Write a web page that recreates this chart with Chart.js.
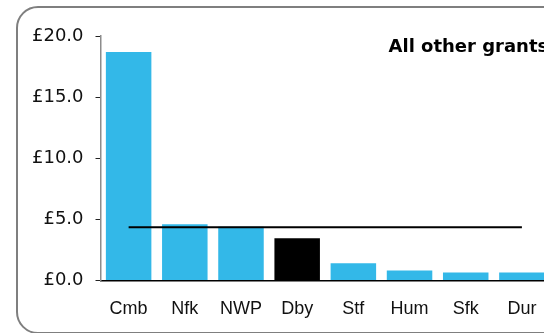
<!DOCTYPE html>
<html>
<head>
<meta charset="utf-8">
<script src="https://cdn.jsdelivr.net/npm/chart.js@4"></script>
<style>
  html, body { margin: 0; padding: 0; background: #fff; overflow: hidden; }
  body { width: 544px; height: 333px; position: relative; }
  .frame {
    position: absolute; left: 16px; top: 6px; width: 560px; height: 324px;
    border: 2px solid #7f7f7f; border-radius: 22px;
  }
  .chart-box { position: absolute; left: 0; top: 0; width: 570px; height: 333px; }
</style>
</head>
<body>
<div class="frame"></div>
<div class="chart-box"><canvas id="grantsChart"></canvas></div>
<script>
// Grant amounts per authority (£m)
const areas = ["Cmb", "Nfk", "NWP", "Dby", "Stf", "Hum", "Sfk", "Dur"];
const grants = [18.7, 4.6, 4.4, 3.45, 1.4, 0.8, 0.65, 0.65];
const average = [4.35, 4.35, 4.35, 4.35, 4.35, 4.35, 4.35, 4.35];
const yTicks = [0, 5, 10, 15, 20];
const chartTitle = "All other grants";

const barColors = areas.map(function (a) {
  return a === "Dby" ? "#000000" : "#33b8e8";
});

// Bold heading drawn in the top right of the plot
const headingPlugin = {
  id: "heading",
  afterDraw: function (chart) {
    const ctx = chart.ctx;
    const area = chart.chartArea;
    ctx.save();
    ctx.font = "bold 18px 'DejaVu Sans'";
    ctx.fillStyle = "#000";
    ctx.textAlign = "left";
    ctx.textBaseline = "alphabetic";
    ctx.fillText(chartTitle, area.left + 288, area.top + 16);
    ctx.restore();
  },
};

document.addEventListener("DOMContentLoaded", function () {
  new Chart(document.getElementById("grantsChart").getContext("2d"), {
    data: {
      labels: areas,
      datasets: [
        {
          type: "line",
          data: average,
          borderColor: "#000",
          borderWidth: 2,
          pointRadius: 0,
          fill: false,
        },
        {
          type: "bar",
          data: grants,
          backgroundColor: barColors,
          barPercentage: 1,
          categoryPercentage: 0.81,
        },
      ],
    },
    options: {
      responsive: true,
      maintainAspectRatio: false,
      animation: false,
      layout: { padding: { top: 36, left: 20, right: 20, bottom: 3 } },
      plugins: { legend: { display: false }, tooltip: { enabled: false } },
      scales: {
        x: {
          grid: { display: false },
          border: { display: true, color: "#000", width: 1.5 },
          ticks: {
            color: "#111",
            padding: 10,
            font: { family: "'Liberation Sans', Arial", size: 18 },
          },
        },
        y: {
          min: 0,
          max: 20,
          afterBuildTicks: function (scale) {
            scale.ticks = yTicks.map(function (v) { return { value: v }; });
          },
          grid: {
            drawOnChartArea: false,
            drawTicks: true,
            tickLength: 5,
            tickColor: "#222",
          },
          border: { display: true, color: "#8c8c8c", width: 1.5 },
          ticks: {
            color: "#111",
            padding: 12,
            font: { family: "'DejaVu Sans'", size: 18 },
            callback: function (v) { return "£" + Number(v).toFixed(1); },
          },
        },
      },
    },
    plugins: [headingPlugin],
  });
});
</script>
</body>
</html>
